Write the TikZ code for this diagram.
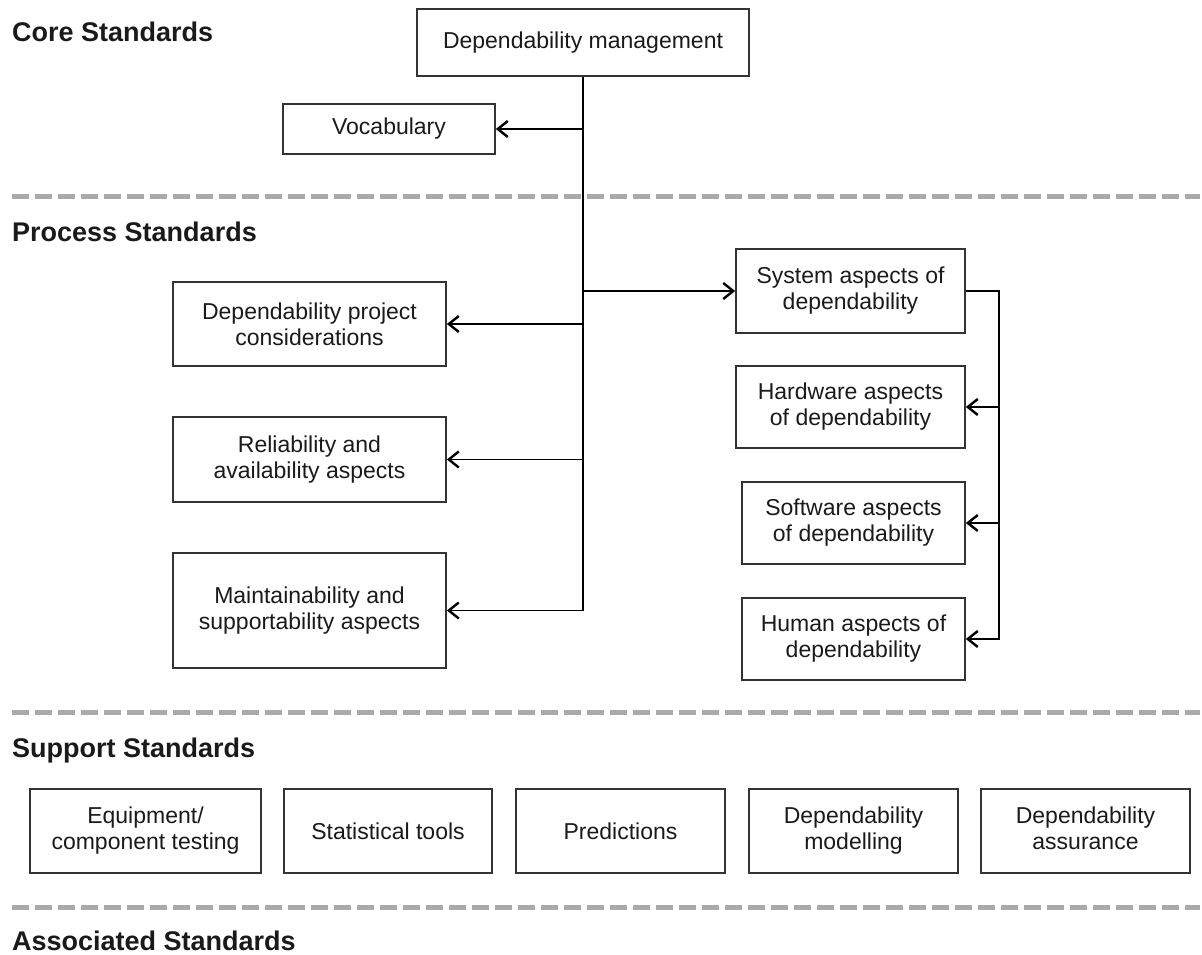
\documentclass[tikz,border=0pt]{standalone}
\usepackage{fontspec}
\setmainfont{Liberation Sans}
\usetikzlibrary{arrows.meta}

\definecolor{sepgray}{HTML}{AAAAAA}
\definecolor{boxline}{HTML}{333333}
\definecolor{txt}{HTML}{1A1A1A}

\tikzset{
  box/.style={draw=boxline, line width=1.7pt, align=center, inner sep=0pt,
              text=txt, font=\fontsize{23}{26}\selectfont},
  heading/.style={anchor=base west, inner sep=0pt, text=txt,
                  font=\fontsize{27}{30}\selectfont\bfseries},
  sepline/.style={draw=sepgray, line width=5pt, dash pattern=on 17pt off 6pt},
  arr/.style={draw=black, line width=1.8pt,
              -{Straight Barb[length=10pt,width=16pt,line width=2.4pt]}},
}

\begin{document}
\begin{tikzpicture}[x=1pt, y=-1pt]
  \useasboundingbox (0,0) rectangle (1202,955);

  % section headings
  \node[heading] (hcore) at (12,42)  {Core Standards};
  \node[heading] (hproc) at (12,241) {Process Standards};
  \node[heading] (hsupp) at (12,757) {Support Standards};
  \node[heading] (hasso) at (12,950) {Associated Standards};

  % section separators
  \draw[sepline] (12,196) -- (1200,196);
  \draw[sepline] (12,712) -- (1200,712);
  \draw[sepline] (12,907) -- (1200,907);

  % core standards
  \node[box, minimum width=332pt, minimum height=67pt] (mgmt) at (583,42.5) {Dependability management};
  \node[box, minimum width=212pt, minimum height=50pt] (vocab) at (389,129) {Vocabulary};

  % process standards, left column
  \node[box, minimum width=273pt, minimum height=84pt] (dpc) at (309.5,324) {Dependability project\\considerations};
  \node[box, minimum width=273pt, minimum height=85pt] (ra) at (309.5,459.5) {Reliability and\\availability aspects};
  \node[box, minimum width=273pt, minimum height=115pt] (ms) at (309.5,610.5) {Maintainability and\\supportability aspects};

  % process standards, right column
  \node[box, minimum width=229pt, minimum height=84pt] (sys) at (850.5,291) {System aspects of\\dependability};
  \node[box, minimum width=229pt, minimum height=82pt] (hw) at (850.5,407) {Hardware aspects\\of dependability};
  \node[box, minimum width=223pt, minimum height=82pt] (sw) at (853.5,523) {Software aspects\\of dependability};
  \node[box, minimum width=223pt, minimum height=82pt] (hu) at (853.5,639) {Human aspects of\\dependability};

  % support standards
  \node[box, minimum width=231pt, minimum height=84pt] (eq) at (145.5,831) {Equipment/\\component testing};
  \node[box, minimum width=208pt, minimum height=84pt] (st) at (388,831) {Statistical tools};
  \node[box, minimum width=209pt, minimum height=84pt] (pr) at (620.5,831) {Predictions};
  \node[box, minimum width=209pt, minimum height=84pt] (dm) at (853.5,831) {Dependability\\modelling};
  \node[box, minimum width=209pt, minimum height=84pt] (da) at (1085.5,831) {Dependability\\assurance\vphantom{g}};

  % trunk from dependability management and its branches
  \draw[arr] (mgmt.south) |- (ms.east);
  \draw[arr] (mgmt.south |- vocab.east) -- (vocab.east);
  \draw[arr] (mgmt.south |- dpc.east) -- (dpc.east);
  \draw[arr] (mgmt.south |- ra.east) -- (ra.east);
  \draw[arr] (mgmt.south |- sys.west) -- (sys.west);

  % bus on the right of the system aspects
  \coordinate (rbus) at (999,0);
  \draw[arr] (sys.east) -| (rbus |- hu.east) -- (hu.east);
  \draw[arr] (rbus |- hw.east) -- (hw.east);
  \draw[arr] (rbus |- sw.east) -- (sw.east);
\end{tikzpicture}
\end{document}
